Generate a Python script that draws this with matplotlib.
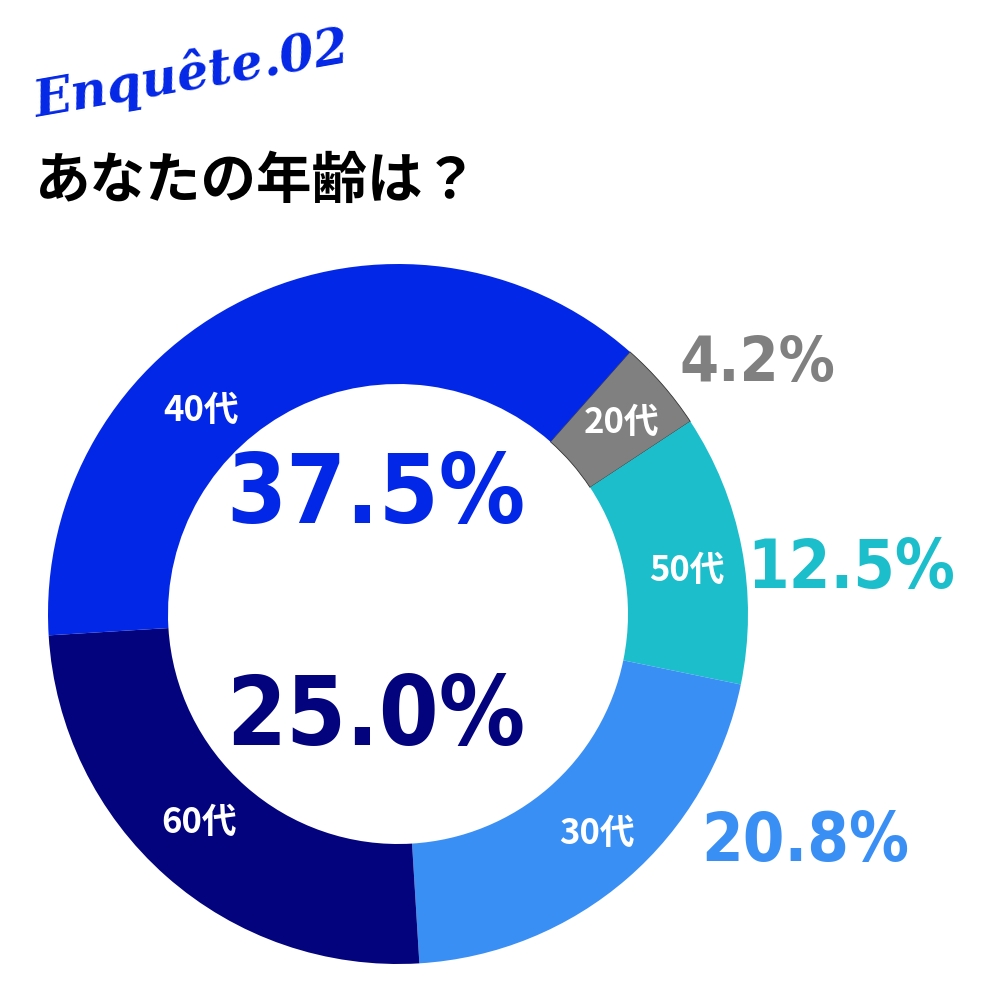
import matplotlib.pyplot as plt

plt.rcParams['font.family'] = ['Noto Sans CJK JP', 'DejaVu Sans']

# data
ages = ['20代', '50代', '30代', '60代', '40代']
shares = [4.2, 12.5, 20.8, 25.0, 37.5]
colors = ['#808080', '#1DBECB', '#3A8FF5', '#03037D', '#0327E6']
pct_labels = ['4.2%', '12.5%', '20.8%', '25.0%', '37.5%']

fig = plt.figure(figsize=(10, 10), dpi=100)
ax = fig.add_axes([0, 0, 1, 1])

wedges, _ = ax.pie(shares, colors=colors, startangle=48.5, counterclock=False,
                   center=(398, 386), radius=350, frame=True,
                   wedgeprops=dict(width=120, linewidth=0))
wedges[0].set_edgecolor('#333333')
wedges[0].set_linewidth(0.6)
ax.set_xlim(0, 1000)
ax.set_ylim(0, 1000)
ax.set_aspect('equal')
ax.axis('off')

# age labels inside the ring
age_pos = [(622, 578), (687, 430), (597, 167), (199, 178), (201, 590)]
for name, (x, y) in zip(ages, age_pos):
    ax.text(x, y, name, color='white', fontsize=25, fontweight='bold',
            ha='center', va='center')

# big percentage labels
big = dict(fontweight='bold', ha='center', va='center',
           family='DejaVu Sans', fontstretch='condensed')
pct_pos = [(757, 636), (851, 431), (805, 158), (376, 282), (376, 504)]
pct_size = [45, 48, 48, 69, 69]
for lab, (x, y), s, c in zip(pct_labels, pct_pos, pct_size, colors):
    ax.text(x, y, lab, color=c, fontsize=s, **big)

# headings
ax.text(38, 872, 'Enquête.02', color='#0327E6', fontsize=36, fontweight='bold',
        fontstyle='italic', family='DejaVu Serif', rotation=10,
        ha='left', va='bottom', rotation_mode='anchor')
ax.text(35, 818, 'あなたの年齢は？', color='black', fontsize=40,
        fontweight='bold', ha='left', va='center')

fig.savefig('out.png', dpi=100, facecolor='white')
